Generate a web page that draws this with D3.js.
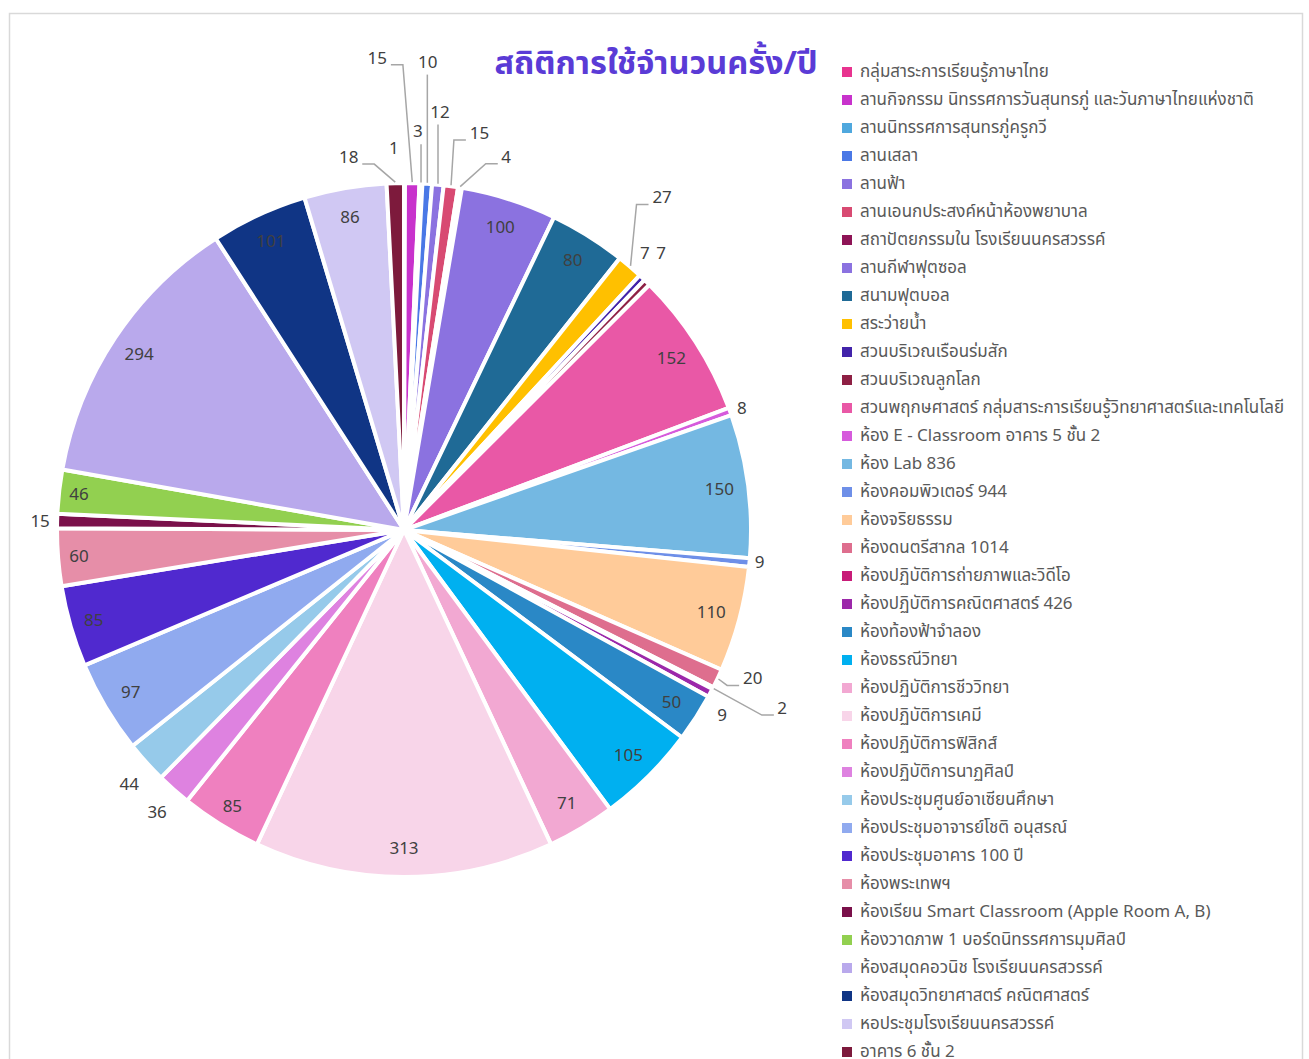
<!DOCTYPE html>
<html>
<head>
<meta charset="utf-8">
<script src="https://cdn.jsdelivr.net/npm/d3@7"></script>
<style>
  body { margin: 0; background: #fff; }
  svg { display: block; font-family: "Noto Sans Thai", "Leelawadee UI", Tahoma, "Noto Sans", sans-serif; }
</style>
</head>
<body>
<svg id="chart" width="1309" height="1059"></svg>
<script>
const categories = [
  "กลุ่มสาระการเรียนรู้ภาษาไทย",
  "ลานกิจกรรม นิทรรศการวันสุนทรภู่ และวันภาษาไทยแห่งชาติ",
  "ลานนิทรรศการสุนทรภู่ครูกวี",
  "ลานเสลา",
  "ลานฟ้า",
  "ลานเอนกประสงค์หน้าห้องพยาบาล",
  "สถาปัตยกรรมใน โรงเรียนนครสวรรค์",
  "ลานกีฬาฟุตซอล",
  "สนามฟุตบอล",
  "สระว่ายน้ำ",
  "สวนบริเวณเรือนร่มสัก",
  "สวนบริเวณลูกโลก",
  "สวนพฤกษศาสตร์ กลุ่มสาระการเรียนรู้วิทยาศาสตร์และเทคโนโลยี",
  "ห้อง E - Classroom อาคาร 5 ชั้น 2",
  "ห้อง Lab 836",
  "ห้องคอมพิวเตอร์ 944",
  "ห้องจริยธรรม",
  "ห้องดนตรีสากล 1014",
  "ห้องปฏิบัติการถ่ายภาพและวิดีโอ",
  "ห้องปฏิบัติการคณิตศาสตร์ 426",
  "ห้องท้องฟ้าจำลอง",
  "ห้องธรณีวิทยา",
  "ห้องปฏิบัติการชีววิทยา",
  "ห้องปฏิบัติการเคมี",
  "ห้องปฏิบัติการฟิสิกส์",
  "ห้องปฏิบัติการนาฏศิลป์",
  "ห้องประชุมศูนย์อาเซียนศึกษา",
  "ห้องประชุมอาจารย์โชติ อนุสรณ์",
  "ห้องประชุมอาคาร 100 ปี",
  "ห้องพระเทพฯ",
  "ห้องเรียน Smart Classroom (Apple Room A, B)",
  "ห้องวาดภาพ 1 บอร์ดนิทรรศการมุมศิลป์",
  "ห้องสมุดคอวนิช โรงเรียนนครสวรรค์",
  "ห้องสมุดวิทยาศาสตร์ คณิตศาสตร์",
  "หอประชุมโรงเรียนนครสวรรค์",
  "อาคาร 6 ชั้น 2"
]

const values = [1, 15, 3, 10, 12, 15, 4, 100, 80, 27, 7, 7, 152, 8, 150, 9, 110, 20, 2, 9,
  50, 105, 71, 313, 85, 36, 44, 97, 85, 60, 15, 46, 294, 101, 86, 18]

const colors = [
  "#e8338f", "#c832cc", "#4fa8de", "#4a78e6", "#8b72e0", "#d84a72", "#8e1456", "#8b72e0",
  "#1f6a96", "#ffc000", "#4223aa", "#8e2044", "#e958a6", "#d65bdc", "#74b8e2", "#6e8fe8",
  "#ffcb99", "#de6e8e", "#c81c78", "#9c28aa", "#2a88c6", "#00b0f0", "#f2a8d2", "#f8d5e9",
  "#ef80bf", "#de82e0", "#96caea", "#90aaef", "#5029cf", "#e68ea8", "#7a104a", "#92d050",
  "#b9a9ec", "#103585", "#d0c8f3", "#7d1a3c"
]

const title = "สถิติการใช้จำนวนครั้ง/ปี"

// label placement: index -> radius, angle shift (deg), leader line
const labelTweak = {
  0: {r: 382, da: -1.6},
  1: {r: 473, da: -4.6, lead: true},
  2: {r: 399, da: -0.8, lead: true},
  3: {r: 469, da: -0.95, lead: true},
  4: {r: 420, da: -0.7, lead: true},
  5: {r: 404, da: 3.0, lead: true},
  6: {r: 387, da: 6.0, lead: true},
  9: {r: 421, da: -2.8, lead: true},
  10: {r: 367, da: -2.3},
  11: {r: 378, da: -1.6},
  13: {r: 359, da: 0.2},
  15: {r: 357, da: -0.3},
  17: {r: 379, da: -2.3, lead: true},
  18: {r: 418, da: -1.9, lead: true},
  19: {r: 368, da: 2.2},
  24: {r: 325, da: 0},
  25: {r: 375, da: -0.4},
  26: {r: 374, da: -0.7},
  28: {r: 323, da: 0},
  29: {r: 326, da: 0},
  30: {r: 364, da: -0.1},
  31: {r: 327, da: 0},
  35: {r: 377, da: -7.0, lead: true}
}

const svg = d3.select("#chart")
const cx = 404, cy = 530, radius = 347

svg.append("rect")
  .attr("x", 9.5).attr("y", 13.5)
  .attr("width", 1293).attr("height", 1070)
  .attr("fill", "#fff")
  .attr("stroke", "#d9d9d9")
  .attr("stroke-width", 1.5)

svg.append("text")
  .attr("x", 656).attr("y", 74)
  .attr("text-anchor", "middle")
  .attr("font-size", 32.5)
  .attr("font-weight", "bold")
  .attr("fill", "#5a3bd6")
  .text(title)

const pie = d3.pie().sort(null).value(d => d)
const arcs = pie(values)
const arc = d3.arc().innerRadius(0).outerRadius(radius)

const g = svg.append("g").attr("transform", "translate(" + cx + "," + cy + ")")

g.selectAll(".slice")
  .data(arcs)
  .enter().append("path")
    .attr("class", "slice")
    .attr("d", arc)
    .attr("fill", (d, i) => colors[i])
    .attr("stroke", "#fff")
    .attr("stroke-width", 4)
    .attr("stroke-linejoin", "round")

const polar = (r, a) => [r * Math.sin(a), -r * Math.cos(a)]

const labels = arcs.map((d, i) => {
  const mid = (d.startAngle + d.endAngle) / 2
  const t = labelTweak[i] || {r: 318, da: 0}
  const a = mid + t.da * Math.PI / 180
  const p = polar(t.r, a)
  return {i: i, value: d.data, mid: mid, x: p[0], y: p[1], lead: t.lead}
})

// leader lines
const halfW = v => String(v).length * 5.3
labels.filter(d => d.lead).forEach(d => {
  const s = polar(radius + 1, d.mid)
  let pts
  if (Math.abs(d.x - s[0]) < halfW(d.value) + 2) {
    pts = [s, [s[0], d.y + 13]]
  } else {
    const side = s[0] > d.x ? 1 : -1
    const edge = d.x + side * halfW(d.value)
    pts = [s, [edge + side * 15, d.y + 7], [edge + side * 3, d.y + 7]]
  }
  g.append("path")
    .attr("d", d3.line()(pts))
    .attr("fill", "none")
    .attr("stroke", "#a6a6a6")
    .attr("stroke-width", 1.5)
})

g.selectAll(".lbl")
  .data(labels)
  .enter().append("text")
    .attr("class", "lbl")
    .attr("x", d => d.x)
    .attr("y", d => d.y)
    .attr("dy", "0.35em")
    .attr("text-anchor", "middle")
    .attr("font-size", 17)
    .attr("fill", "#404040")
    .text(d => d.value)

// legend
const legend = svg.append("g").attr("transform", "translate(842,71)")
const row = legend.selectAll(".row")
  .data(categories)
  .enter().append("g")
    .attr("class", "row")
    .attr("transform", (d, i) => "translate(0," + (i * 28) + ")")
row.append("rect")
  .attr("x", 0).attr("y", -4)
  .attr("width", 10).attr("height", 10)
  .attr("fill", (d, i) => colors[i])
row.append("text")
  .attr("x", 18).attr("y", 0)
  .attr("dy", "0.35em")
  .attr("font-size", 17)
  .attr("fill", "#595959")
  .text(d => d)
</script>
</body>
</html>
